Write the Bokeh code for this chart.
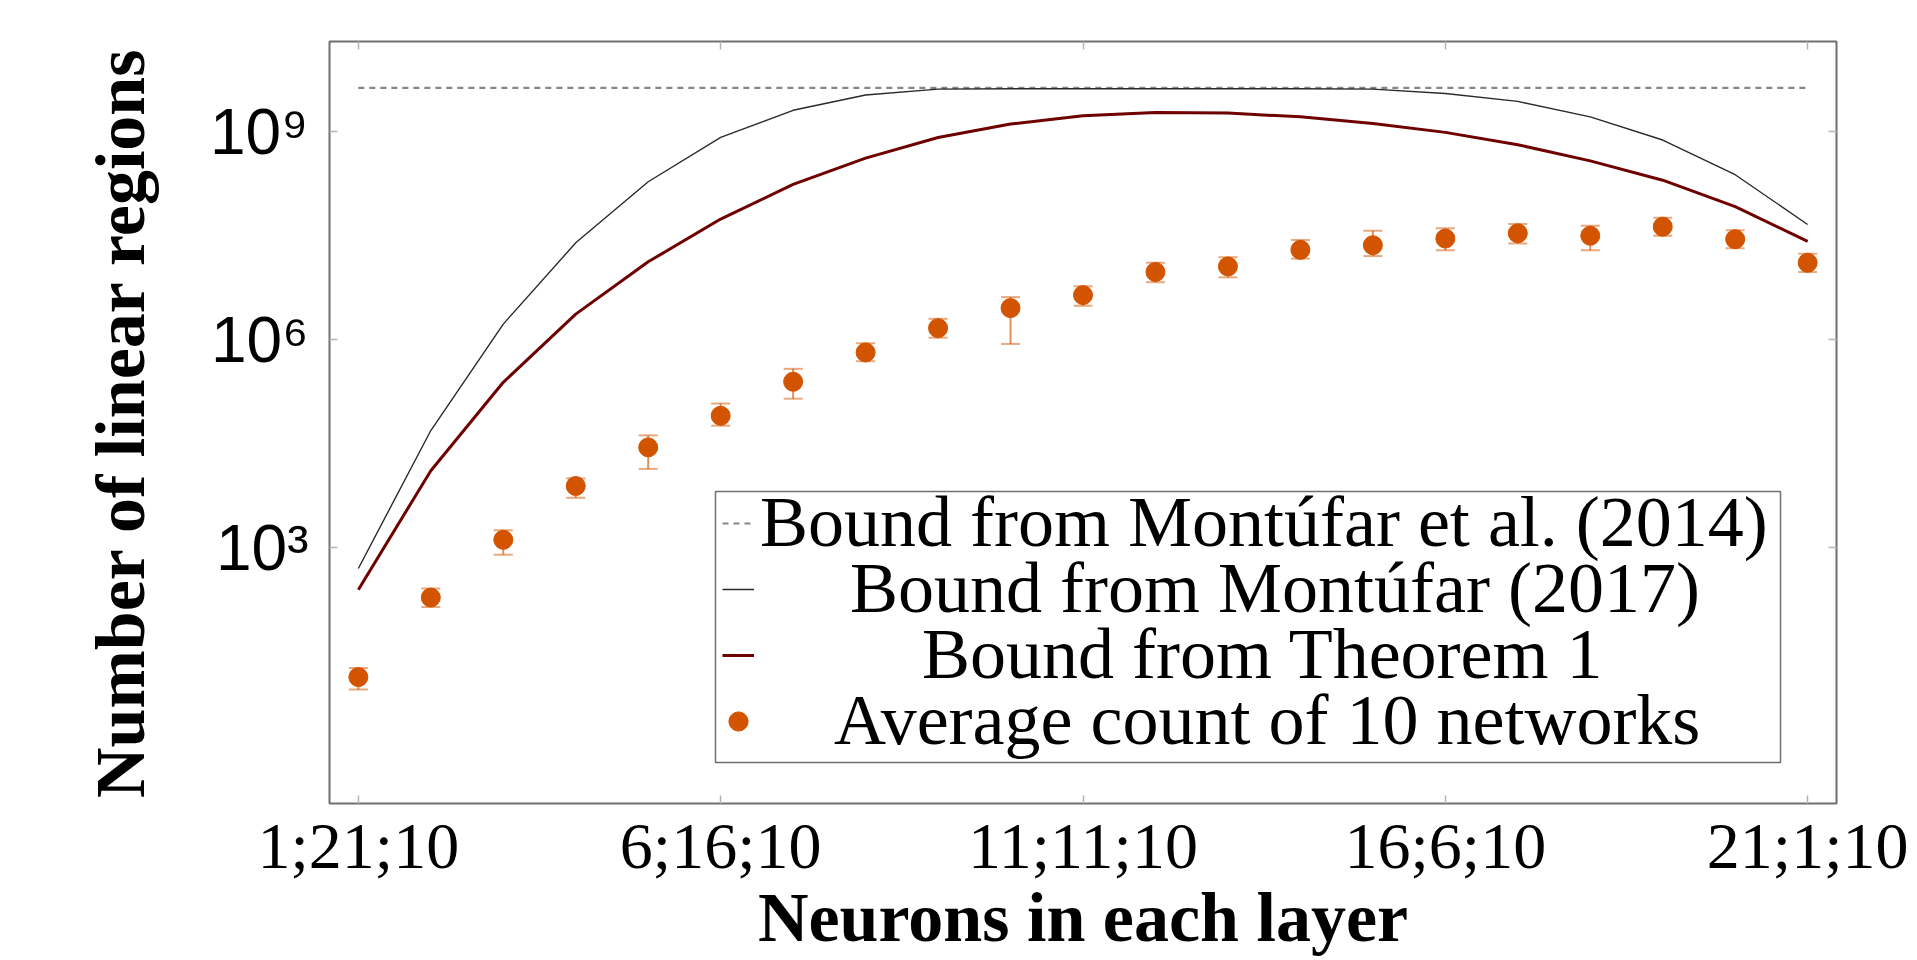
from bokeh.plotting import figure
from bokeh.models import (ColumnDataSource, FixedTicker, LinearAxis, LogAxis, Whisker,
                          TeeHead, Legend, LegendItem, Range1d, BoxAnnotation)
from bokeh.embed import file_html
from bokeh.resources import INLINE

# ---------------- data ----------------
first_layer = [1, 2, 3, 4, 5, 6, 7, 8, 9, 10, 11, 12, 13, 14, 15, 16, 17, 18, 19, 20, 21]

tick_positions = [1, 6, 11, 16, 21]
tick_labels = ["1;21;10", "6;16;10", "11;11;10", "16;6;10", "21;1;10"]

bound_2014_x = [1, 21]
bound_2014 = [4.3e9, 4.3e9]

bound_2017 = [501, 4.9e4, 1.68e6, 2.5e7, 1.9e8, 8.3e8, 2.04e9, 3.39e9, 4.12e9, 4.17e9,
              4.17e9, 4.17e9, 4.17e9, 4.17e9, 4.12e9, 3.56e9, 2.74e9, 1.64e9, 7.6e8, 2.4e8, 4.6e7]

bound_thm1 = [248, 1.29e4, 2.43e5, 2.34e6, 1.33e7, 5.5e7, 1.74e8, 4.17e8, 8.28e8, 1.29e9,
              1.70e9, 1.90e9, 1.86e9, 1.64e9, 1.32e9, 9.8e8, 6.5e8, 3.8e8, 2.0e8, 8.3e7, 2.63e7]

avg_count = [13.6, 191, 1300, 7760, 2.8e4, 8.0e4, 2.48e5, 6.56e5, 1.47e6, 2.86e6,
             4.4e6, 9.5e6, 1.14e7, 1.98e7, 2.31e7, 2.88e7, 3.43e7, 3.16e7, 4.27e7, 2.82e7, 1.29e7]
avg_upper = [18.4, 257, 1780, 1.0e4, 4.17e4, 1.2e5, 3.8e5, 8.9e5, 2.0e6, 4.12e6,
             5.9e6, 1.29e7, 1.55e7, 2.75e7, 3.72e7, 4.07e7, 4.68e7, 4.42e7, 5.75e7, 3.8e7, 1.74e7]
avg_lower = [9.0, 139, 794, 5250, 1.37e4, 5.75e4, 1.41e5, 4.9e5, 1.07e6, 8.7e5,
             3.09e6, 6.76e6, 7.94e6, 1.48e7, 1.61e7, 1.95e7, 2.45e7, 1.95e7, 3.16e7, 2.09e7, 9.5e6]

y_ticks = [1e3, 1e6, 1e9]
y_tick_labels = ["10\u00b3", "10\u2076", "10\u2079"]

legend_labels = [
    "Bound from Mont\u00fafar et al. (2014)",
    "\u00a0\u00a0\u00a0\u00a0\u00a0Bound from Mont\u00fafar (2017)",
    "\u00a0\u00a0\u00a0\u00a0\u00a0\u00a0\u00a0\u00a0\u00a0Bound from Theorem 1",
    "\u00a0\u00a0\u00a0\u00a0Average count of 10 networks",
]

# ---------------- styles ----------------
ORANGE = "#D35400"
MAROON = "#6E0000"
SERIF = "Liberation Serif"
FRAME_GRAY = "#6f6f6f"

p = figure(width=1917, height=960, output_backend="svg", toolbar_location=None,
           y_axis_type="log",
           x_range=Range1d(0.602, 21.398), y_range=Range1d(10 ** -0.69, 10 ** 10.302),
           min_border_left=329, min_border_right=81, min_border_top=41, min_border_bottom=157)
p.grid.visible = False
p.outline_line_color = FRAME_GRAY
p.outline_line_width = 2
p.background_fill_color = "white"

src = ColumnDataSource(dict(x=first_layer, b2017=bound_2017, thm=bound_thm1,
                            avg=avg_count, up=avg_upper, lo=avg_lower))

r2014 = p.line(bound_2014_x, bound_2014, line_color="#858585", line_width=2.2, line_dash="6 5")
r2017 = p.line("x", "b2017", source=src, line_color="#2a2a2a", line_width=1.4)
rthm = p.line("x", "thm", source=src, line_color=MAROON, line_width=3)

wh = Whisker(base="x", upper="up", lower="lo", source=src, line_color=ORANGE, line_alpha=0.65,
             line_width=2,
             upper_head=TeeHead(size=19, line_color=ORANGE, line_alpha=0.5, line_width=2),
             lower_head=TeeHead(size=19, line_color=ORANGE, line_alpha=0.5, line_width=2))
p.add_layout(wh)
rpts = p.scatter("x", "avg", source=src, size=19, fill_color=ORANGE, line_color=ORANGE, marker="circle")

# ---------------- axes ----------------
xa = p.xaxis[0]
xa.ticker = FixedTicker(ticks=tick_positions)
xa.major_label_overrides = {t: l for t, l in zip(tick_positions, tick_labels)}
xa.major_label_text_font = SERIF
xa.major_label_text_font_size = "66px"
xa.major_label_standoff = 5
xa.axis_label = "Neurons in each layer"
xa.axis_label_text_font = SERIF
xa.axis_label_text_font_style = "bold"
xa.axis_label_text_font_size = "70px"
xa.axis_label_standoff = -6

ya = p.yaxis[0]
ya.ticker = FixedTicker(ticks=y_ticks)
ya.major_label_overrides = {t: l for t, l in zip(y_ticks, y_tick_labels)}
ya.major_label_text_font = "Liberation Sans"
ya.major_label_text_font_size = "64px"
ya.major_label_standoff = 21
ya.axis_label = "Number of linear regions"
ya.axis_label_text_font = SERIF
ya.axis_label_text_font_style = "bold"
ya.axis_label_text_font_size = "70px"
ya.axis_label_standoff = 48

# top and right axes: tick marks only (drawn as minor ticks, so no labels exist)
top_ax = LinearAxis(ticker=FixedTicker(ticks=[], minor_ticks=tick_positions))
right_ax = LogAxis(ticker=FixedTicker(ticks=[], minor_ticks=y_ticks))
p.add_layout(top_ax, "above")
p.add_layout(right_ax, "right")

for ax in [xa, ya]:
    ax.axis_line_color = None
    ax.major_tick_in = 8
    ax.major_tick_out = 0
    ax.major_tick_line_color = "#b5b5b5"
    ax.major_tick_line_width = 1.5
    ax.minor_tick_line_color = None
    ax.major_label_text_color = "black"
    ax.axis_label_text_color = "black"

for ax in [top_ax, right_ax]:
    ax.axis_line_color = None
    ax.major_tick_line_color = None
    ax.minor_tick_in = 8
    ax.minor_tick_out = 0
    ax.minor_tick_line_color = "#b5b5b5"
    ax.minor_tick_line_width = 1.5

# ---------------- legend ----------------
# frame of the legend (screen units, relative to the plot frame)
legend_box = BoxAnnotation(left=386, right=1451, bottom=41, top=312,
                           left_units="screen", right_units="screen",
                           bottom_units="screen", top_units="screen",
                           fill_color="white", fill_alpha=1.0,
                           line_color=FRAME_GRAY, line_width=1.5, line_alpha=1.0)
p.add_layout(legend_box)

row_renderers = [r2014, r2017, rthm, rpts]
row_x = [393, 393, 393, 385]
row_y = [239, 173, 107, 41]
row_glyph_w = [32, 32, 32, 48]
row_standoff = [6, 6, 6, 0]
for lab, rend, lx, ly, gw, so in zip(legend_labels, row_renderers, row_x, row_y,
                                     row_glyph_w, row_standoff):
    lg = Legend(items=[LegendItem(label=lab, renderers=[rend])],
                location=(lx, ly), margin=0, padding=0, spacing=0,
                glyph_width=gw, glyph_height=60, label_standoff=so,
                label_text_font=SERIF, label_text_font_size="72px", label_text_color="black",
                border_line_color=None, background_fill_alpha=0.0)
    p.add_layout(lg)

open("out.html", "w").write(file_html(p, INLINE))
